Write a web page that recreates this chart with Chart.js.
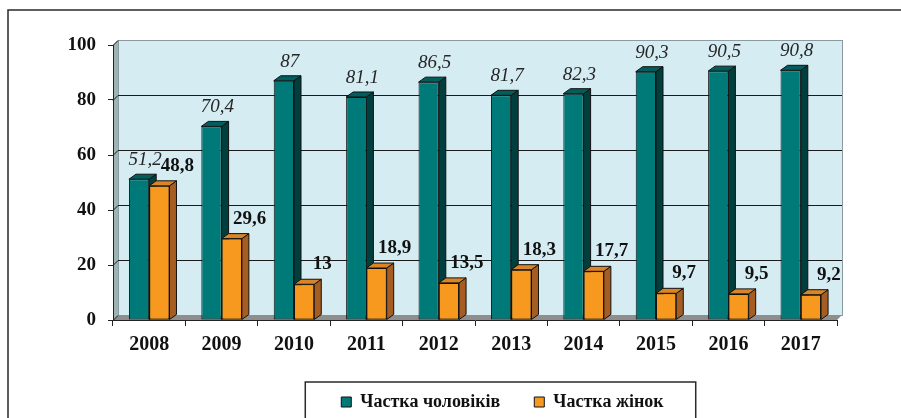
<!DOCTYPE html>
<html>
<head>
<meta charset="utf-8">
<script src="https://cdn.jsdelivr.net/npm/chart.js@4"></script>
<style>
  html, body { margin: 0; padding: 0; background: #fff; overflow: hidden; }
  #wrap { width: 901px; height: 418px; }
</style>
</head>
<body>
<div id="wrap"><canvas id="chart" width="901" height="418"></canvas></div>
<script>
const years = ["2008", "2009", "2010", "2011", "2012", "2013", "2014", "2015", "2016", "2017"];
const menShare = [51.2, 70.4, 87, 81.1, 86.5, 81.7, 82.3, 90.3, 90.5, 90.8];
const womenShare = [48.8, 29.6, 13, 18.9, 13.5, 18.3, 17.7, 9.7, 9.5, 9.2];
const seriesNames = ["Частка чоловіків", "Частка жінок"];

const serif = '"Liberation Serif", "Times New Roman", serif';

// front / top / side colours for the fake 3D bars
const faces = [
  { front: "#007A78", top: "#005E5C", side: "#003F3D" },
  { front: "#F7991F", top: "#D98426", side: "#A65D22" },
];
const barDX = 7, barDY = 5;   // bar depth
const wallDX = 5, wallDY = 5; // wall depth

function fmt(v) {
  return String(v).replace(".", ",");
}

function drawDepth(ctx, bar, f) {
  const l = bar.x - bar.width / 2;
  const r = bar.x + bar.width / 2;
  const t = bar.y;
  const b = bar.base;
  ctx.lineWidth = 1;
  ctx.strokeStyle = "#111";
  // side
  ctx.fillStyle = f.side;
  ctx.beginPath();
  ctx.moveTo(r, t);
  ctx.lineTo(r + barDX, t - barDY);
  ctx.lineTo(r + barDX, b - barDY);
  ctx.lineTo(r, b);
  ctx.closePath();
  ctx.fill();
  ctx.stroke();
  // top
  ctx.fillStyle = f.top;
  ctx.beginPath();
  ctx.moveTo(l, t);
  ctx.lineTo(l + barDX, t - barDY);
  ctx.lineTo(r + barDX, t - barDY);
  ctx.lineTo(r, t);
  ctx.closePath();
  ctx.fill();
  ctx.stroke();
}

const depth3d = {
  id: "depth3d",
  beforeDraw(chart) {
    const ctx = chart.ctx;
    const { left, right, top, bottom } = chart.chartArea;
    const y = chart.scales.y;
    ctx.save();

    // outer frame
    ctx.strokeStyle = "#2a2a2a";
    ctx.lineWidth = 1.5;
    ctx.beginPath();
    ctx.moveTo(8, chart.height + 2);
    ctx.lineTo(8, 10);
    ctx.lineTo(chart.width + 2, 10);
    ctx.stroke();

    // back wall
    ctx.fillStyle = "#D5ECF2";
    ctx.fillRect(left + wallDX, top - wallDY, right - left, bottom - top);
    ctx.strokeStyle = "#8a9a9e";
    ctx.lineWidth = 1;
    ctx.strokeRect(left + wallDX + 0.5, top - wallDY + 0.5, right - left, bottom - top);

    // left side wall
    ctx.fillStyle = "#9DB4B4";
    ctx.beginPath();
    ctx.moveTo(left, top);
    ctx.lineTo(left + wallDX, top - wallDY);
    ctx.lineTo(left + wallDX, bottom - wallDY);
    ctx.lineTo(left, bottom);
    ctx.closePath();
    ctx.fill();

    // floor
    ctx.fillStyle = "#8E8E8E";
    ctx.beginPath();
    ctx.moveTo(left, bottom);
    ctx.lineTo(left + wallDX, bottom - wallDY);
    ctx.lineTo(right + wallDX, bottom - wallDY);
    ctx.lineTo(right, bottom);
    ctx.closePath();
    ctx.fill();

    // gridlines on the back wall
    ctx.strokeStyle = "#1a1a1a";
    ctx.lineWidth = 1;
    y.ticks.forEach((t) => {
      const py = Math.round(y.getPixelForValue(t.value)) + 0.5;
      ctx.beginPath();
      ctx.moveTo(left, py);
      ctx.lineTo(left + wallDX, py - wallDY);
      if (t.value > 0 && t.value < y.max) ctx.lineTo(right + wallDX, py - wallDY);
      ctx.stroke();
    });
    ctx.restore();
  },
  afterDatasetsDraw(chart) {
    // men first, then women drawn again on top so the men's side faces are hidden
    const ctx = chart.ctx;
    ctx.save();
    chart.getDatasetMeta(0).data.forEach((bar) => drawDepth(ctx, bar, faces[0]));
    chart.getDatasetMeta(1).data.forEach((bar) => {
      bar.draw(ctx);
      drawDepth(ctx, bar, faces[1]);
    });
    ctx.restore();
  },
  afterDraw(chart) {
    const ctx = chart.ctx;
    ctx.save();
    ctx.textAlign = "center";
    ctx.textBaseline = "alphabetic";
    // value labels
    chart.data.datasets.forEach((ds, i) => {
      const meta = chart.getDatasetMeta(i);
      meta.data.forEach((bar, j) => {
        if (i === 0) {
          ctx.font = "italic 19px " + serif;
          ctx.fillStyle = "#262626";
          ctx.fillText(fmt(ds.data[j]), bar.x + 6, bar.y - barDY - 9);
        } else {
          ctx.font = "bold 19px " + serif;
          ctx.fillStyle = "#111";
          ctx.fillText(fmt(ds.data[j]), bar.x + 18, bar.y - barDY - 10);
        }
      });
    });
    // legend frame
    const lg = chart.legend;
    if (lg && lg.legendHitBoxes && lg.legendHitBoxes.length) {
      const hb = lg.legendHitBoxes;
      const first = hb[0], last = hb[hb.length - 1];
      const cy = first.top + first.height / 2;
      ctx.strokeStyle = "#2a2a2a";
      ctx.lineWidth = 1.5;
      ctx.strokeRect(first.left - 36, cy - 20, last.left + last.width - first.left + 68, 60);
    }
    ctx.restore();
  },
  afterLayout(chart) {
    // the legend sits right of centre in the original
    const lg = chart.legend;
    if (lg) {
      lg.left += 84;
      lg.right += 84;
      lg.top += 3;
      lg.bottom += 3;
    }
  },
};

const ctx = document.getElementById("chart").getContext("2d");
new Chart(ctx, {
  type: "bar",
  data: {
    labels: years,
    datasets: [
      {
        label: seriesNames[0],
        data: menShare,
        backgroundColor: faces[0].front,
        borderColor: "#111",
        borderWidth: 1,
        borderSkipped: false,
      },
      {
        label: seriesNames[1],
        data: womenShare,
        backgroundColor: faces[1].front,
        borderColor: "#111",
        borderWidth: 1,
        borderSkipped: false,
      },
    ],
  },
  plugins: [depth3d],
  options: {
    responsive: false,
    devicePixelRatio: 1,
    animation: false,
    layout: { padding: { top: 45, right: 64, bottom: 0, left: 0 } },
    categoryPercentage: 0.56,
    barPercentage: 1.0,
    plugins: {
      tooltip: { enabled: false },
      legend: {
        position: "bottom",
        labels: {
          boxWidth: 10,
          boxHeight: 10,
          padding: 34,
          color: "#111",
          font: { family: serif, size: 18, weight: "bold" },
        },
      },
    },
    scales: {
      x: {
        grid: { display: true, drawOnChartArea: false, drawTicks: true, tickLength: 6, color: "#222", offset: true },
        border: { display: true, color: "#222", width: 1 },
        ticks: { color: "#111", font: { family: serif, size: 20, weight: "bold" }, padding: 7 },
        afterFit: (s) => { s.height = 36; },
      },
      y: {
        min: 0,
        max: 100,
        ticks: { stepSize: 20, color: "#111", font: { family: serif, size: 19, weight: "bold" }, padding: 12 },
        grid: { display: true, drawOnChartArea: false, drawTicks: true, tickLength: 5, color: "#222" },
        border: { display: true, color: "#222", width: 1 },
        afterFit: (s) => { s.width = 113; },
      },
    },
  },
});
</script>
</body>
</html>
